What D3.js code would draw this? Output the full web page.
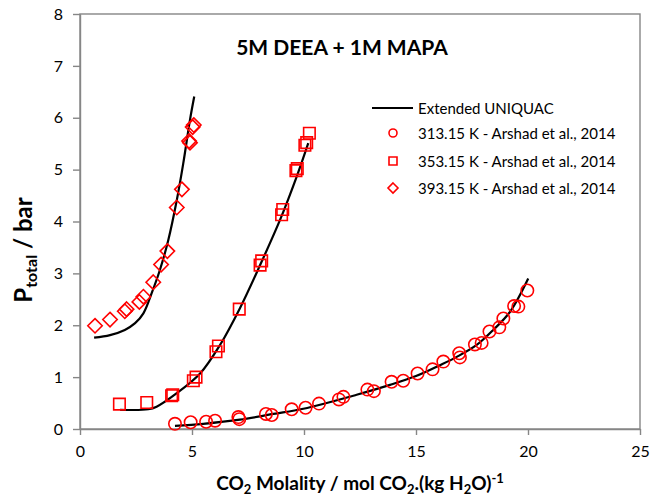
<!DOCTYPE html>
<html><head><meta charset="utf-8">
<script src="https://cdn.jsdelivr.net/npm/d3@7"></script>
<style>
body{margin:0;background:#fff}
text{font-family:Lato,"Open Sans",sans-serif;fill:#000}
</style>
</head><body>
<svg id="chart" width="651" height="499"></svg>
<script>
const chartTitle = "5M DEEA + 1M MAPA";
const xTicks = [0, 5, 10, 15, 20, 25];
const yTicks = [0, 1, 2, 3, 4, 5, 6, 7, 8];
const legendLabels = ["Extended UNIQUAC", "313.15 K - Arshad et al., 2014", "353.15 K - Arshad et al., 2014", "393.15 K - Arshad et al., 2014"];

// experimental data [molality, P]
const exp313 = [[4.24,0.10],[4.94,0.13],[5.63,0.14],[6.03,0.16],[7.07,0.23],[7.11,0.19],[8.30,0.29],[8.56,0.27],[9.45,0.38],[10.07,0.41],[10.67,0.49],[11.56,0.57],[11.76,0.62],[12.83,0.76],[13.12,0.73],[13.91,0.91],[14.43,0.93],[15.07,1.07],[15.74,1.15],[16.22,1.30],[16.93,1.46],[16.96,1.38],[17.63,1.63],[17.93,1.66],[18.28,1.88],[18.72,1.96],[18.90,2.13],[19.38,2.37],[19.57,2.36],[19.97,2.67]];
const exp353 = [[1.76,0.48],[2.98,0.51],[4.09,0.64],[4.14,0.66],[5.06,0.93],[5.18,1.00],[6.07,1.49],[6.18,1.60],[7.11,2.31],[8.04,3.16],[8.11,3.24],[9.00,4.13],[9.05,4.23],[9.64,4.98],[9.70,5.02],[10.04,5.47],[10.12,5.52],[10.24,5.70]];
const exp393 = [[0.67,1.99],[1.34,2.11],[2.00,2.27],[2.08,2.31],[2.65,2.45],[2.83,2.55],[3.27,2.83],[3.62,3.17],[3.90,3.43],[4.32,4.27],[4.55,4.62],[4.87,5.55],[4.91,5.52],[5.03,5.82],[5.08,5.86]];

// Extended UNIQUAC model curves
const model313 = [[4.24,0.06],[5.5,0.10],[7.14,0.18],[8.63,0.29],[9.97,0.39],[12.35,0.66],[13.84,0.85],[15.0,1.02],[16.07,1.23],[16.82,1.39],[17.71,1.62],[18.45,1.91],[19.2,2.26],[20.01,2.90]];
const model353 = [[1.79,0.37],[3.05,0.38],[3.42,0.43],[4.32,0.69],[5.36,1.07],[6.25,1.62],[7.14,2.33],[8.04,3.16],[8.93,4.03],[9.67,4.86],[10.19,5.51]];
const model393 = [[0.63,1.76],[1.34,1.81],[2.0,1.91],[2.46,2.04],[2.83,2.23],[3.2,2.62],[3.57,3.07],[3.94,3.64],[4.32,4.41],[4.61,5.12],[4.91,5.96],[5.10,6.41]];

const svg = d3.select("#chart");
svg.append("rect").attr("width",651).attr("height",499).attr("fill","#fff");

const x = d3.scaleLinear().domain([0,25]).range([80,640]);
const y = d3.scaleLinear().domain([0,8]).range([429,14]);
const gray = "#868686";
const red = "#ff0000";

// plot area border
svg.append("rect").attr("x",x(0)).attr("y",y(8)).attr("width",x(25)-x(0)).attr("height",y(0)-y(8))
  .attr("fill","none").attr("stroke",gray).attr("stroke-width",1.4);

const gx = svg.append("g").attr("transform",`translate(0,${y(0)})`)
  .call(d3.axisBottom(x).tickValues(xTicks).tickSize(6).tickSizeOuter(0).tickPadding(11));
const gy = svg.append("g").attr("transform",`translate(${x(0)},0)`)
  .call(d3.axisLeft(y).tickValues(yTicks).tickSize(7).tickSizeOuter(0).tickPadding(10));
[gx,gy].forEach(g=>{
  g.select(".domain").attr("stroke",gray).attr("stroke-width",1.4);
  g.selectAll(".tick line").attr("stroke",gray).attr("stroke-width",1.4);
  g.selectAll(".tick text").attr("font-family","Lato, sans-serif").attr("font-size",16).attr("fill","#000");
});

// model lines
const line = d3.line().x(d=>x(d[0])).y(d=>y(d[1])).curve(d3.curveCatmullRom.alpha(0.5));
[model313, model353, model393].forEach(m=>{
  svg.append("path").attr("d",line(m)).attr("fill","none").attr("stroke","#000").attr("stroke-width",2.2);
});

const diamond = r => `M0,${-r}L${r},0L0,${r}L${-r},0Z`;
const square = s => `M${-s/2},${-s/2}h${s}v${s}h${-s}Z`;

svg.append("g").selectAll("circle").data(exp313).join("circle")
  .attr("cx",d=>x(d[0])).attr("cy",d=>y(d[1])).attr("r",6.2)
  .attr("fill","none").attr("stroke",red).attr("stroke-width",1.6);
svg.append("g").selectAll("path").data(exp353).join("path")
  .attr("transform",d=>`translate(${x(d[0])},${y(d[1])})`).attr("d",square(11.5))
  .attr("fill","none").attr("stroke",red).attr("stroke-width",1.6);
svg.append("g").selectAll("path").data(exp393).join("path")
  .attr("transform",d=>`translate(${x(d[0])},${y(d[1])})`).attr("d",diamond(7.2))
  .attr("fill","none").attr("stroke",red).attr("stroke-width",1.6);

// title
svg.append("text").attr("x",342).attr("y",55).attr("text-anchor","middle")
  .attr("font-size",21).attr("font-weight","bold").text(chartTitle);

// x axis title
const xt = svg.append("text").attr("x",360).attr("y",490).attr("text-anchor","middle")
  .attr("font-size",19).attr("font-weight","bold");
xt.append("tspan").text("CO");
xt.append("tspan").attr("font-size",13).attr("dy",4).text("2");
xt.append("tspan").attr("dy",-4).text(" Molality / mol CO");
xt.append("tspan").attr("font-size",13).attr("dy",4).text("2");
xt.append("tspan").attr("dy",-4).text(".(kg H");
xt.append("tspan").attr("font-size",13).attr("dy",4).text("2");
xt.append("tspan").attr("dy",-4).text("O)");
xt.append("tspan").attr("font-size",13).attr("dy",-7).text("-1");

// y axis title
const yt = svg.append("text").attr("transform","translate(32,250) rotate(-90)").attr("text-anchor","middle")
  .attr("font-size",24).attr("font-weight","bold");
yt.append("tspan").text("P");
yt.append("tspan").attr("font-size",16).attr("dy",5).text("total");
yt.append("tspan").attr("dy",-5).text(" / bar");

// legend
const lg = svg.append("g");
const rows = [108, 133, 161, 188];
lg.append("line").attr("x1",372).attr("x2",413).attr("y1",rows[0]).attr("y2",rows[0]).attr("stroke","#000").attr("stroke-width",2.2);
lg.append("circle").attr("cx",393).attr("cy",rows[1]).attr("r",4).attr("fill","none").attr("stroke",red).attr("stroke-width",1.6);
lg.append("path").attr("transform",`translate(393,${rows[2]})`).attr("d",square(8)).attr("fill","none").attr("stroke",red).attr("stroke-width",1.6);
lg.append("path").attr("transform",`translate(393,${rows[3]})`).attr("d",diamond(5)).attr("fill","none").attr("stroke",red).attr("stroke-width",1.6);
legendLabels.forEach((t,i)=>{
  lg.append("text").attr("x",418).attr("y",rows[i]+5.5).attr("font-size",15).text(t);
});
</script>
</body></html>
